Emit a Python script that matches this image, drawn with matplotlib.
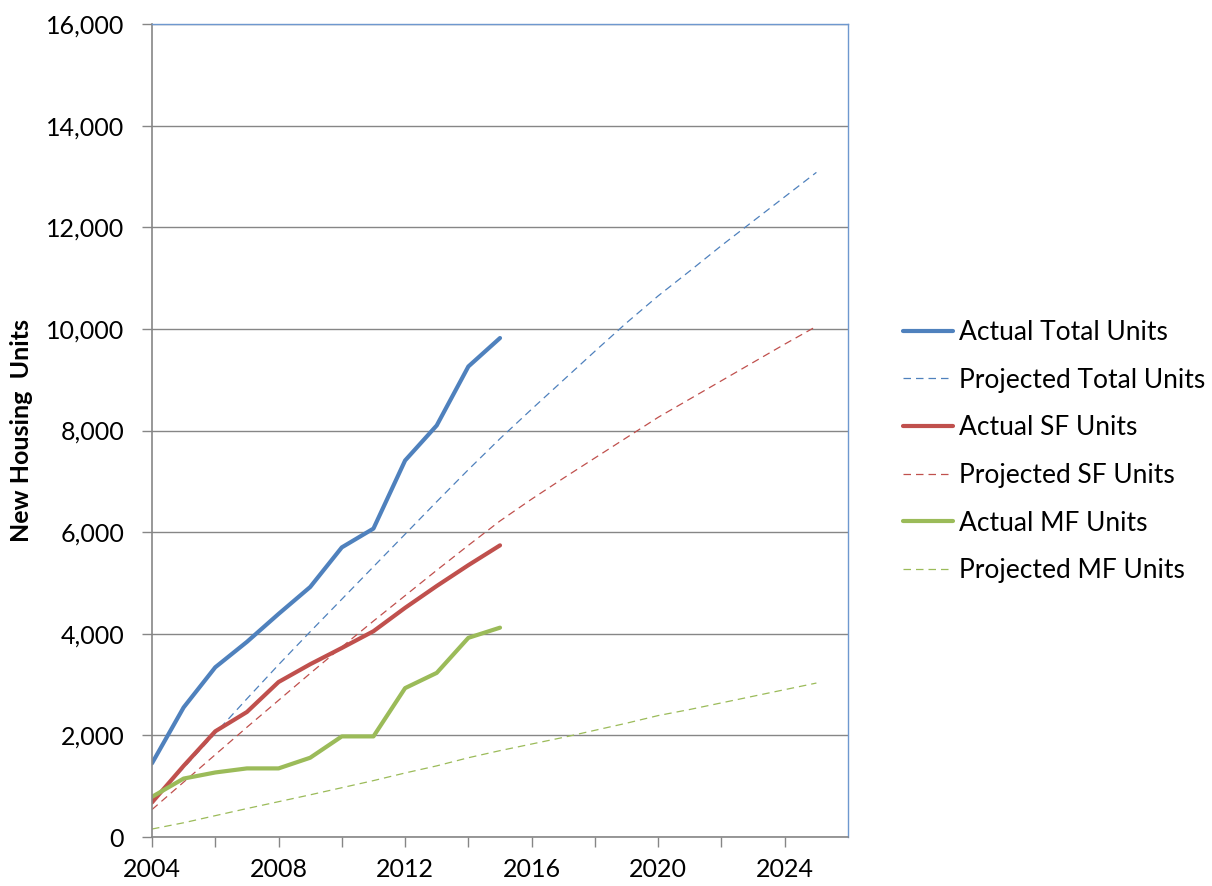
import numpy as np
import matplotlib
matplotlib.use('Agg')
import matplotlib.pyplot as plt
from matplotlib.ticker import FuncFormatter

# yearly cumulative new housing units
years_actual = list(range(2004, 2016))
actual_total = [1450, 2550, 3340, 3840, 4390, 4920, 5700, 6070, 7410, 8100, 9260, 9820]
actual_sf = [680, 1400, 2080, 2460, 3050, 3400, 3720, 4050, 4510, 4940, 5350, 5740]
actual_mf = [790, 1150, 1270, 1350, 1350, 1560, 1980, 1980, 2930, 3230, 3920, 4120]

years_proj = list(range(2004, 2026))
proj_total = [700, 1360, 2040, 2720, 3390, 4040, 4680, 5320, 5960, 6600, 7230, 7840,
              8420, 8990, 9560, 10120, 10650, 11140, 11640, 12120, 12600, 13080]
proj_sf = [540, 1080, 1620, 2160, 2690, 3220, 3740, 4250, 4750, 5250, 5740, 6220,
           6650, 7060, 7460, 7860, 8260, 8620, 8980, 9340, 9700, 10050]
proj_mf = [157, 280, 420, 560, 695, 830, 970, 1110, 1260, 1400, 1560, 1700,
           1830, 1960, 2100, 2240, 2390, 2510, 2640, 2770, 2900, 3030]

blue = '#4F81BD'
red = '#C0504D'
green = '#9BBB59'
grid = '#868686'

plt.rcParams['font.family'] = ['Lato', 'DejaVu Sans']

fig = plt.figure(figsize=(12.12, 8.86), dpi=100)
ax = fig.add_axes([0.1254, 0.0553, 0.5743, 0.9176])

dash = (0, (6, 4))
ax.plot(years_actual, actual_total, color=blue, lw=3, label='Actual Total Units', solid_capstyle='round')
ax.plot(years_proj, proj_total, color=blue, lw=0.9, ls=dash, label='Projected Total Units')
ax.plot(years_actual, actual_sf, color=red, lw=3, label='Actual SF Units', solid_capstyle='round')
ax.plot(years_proj, proj_sf, color=red, lw=0.9, ls=dash, label='Projected SF Units')
ax.plot(years_actual, actual_mf, color=green, lw=3, label='Actual MF Units', solid_capstyle='round')
ax.plot(years_proj, proj_mf, color=green, lw=0.9, ls=dash, label='Projected MF Units')

ax.set_xlim(2004, 2026)
ax.set_ylim(0, 16000)
ax.set_xticks(np.arange(2004, 2026, 2))
ax.set_xticklabels([str(y) if (y - 2004) % 4 == 0 else '' for y in range(2004, 2026, 2)])
ax.set_yticks(np.arange(0, 16001, 2000))
ax.yaxis.set_major_formatter(FuncFormatter(lambda v, p: '{:,.0f}'.format(v)))
ax.tick_params(axis='both', direction='out', length=7, width=1, color=grid,
               labelsize=18)
ax.tick_params(axis='x', pad=8)
ax.tick_params(axis='y', pad=13)
ax.grid(axis='y', color=grid, lw=1)
ax.set_axisbelow(True)

for s in ['left', 'bottom']:
    ax.spines[s].set_color(grid)
    ax.spines[s].set_linewidth(1.2)
for s in ['top', 'right']:
    ax.spines[s].set_color('#6E98CF')
    ax.spines[s].set_linewidth(1)

ax.set_ylabel('New Housing  Units', fontsize=18, fontweight='bold')
ax.yaxis.set_label_coords(-0.171, 0.50)

ax.legend(loc='center left', bbox_to_anchor=(1.045, 0.474), frameon=False,
          fontsize=19, handlelength=1.9, handletextpad=0.2, labelspacing=0.86)

plt.savefig('out.png', dpi=100)
plt.close()
